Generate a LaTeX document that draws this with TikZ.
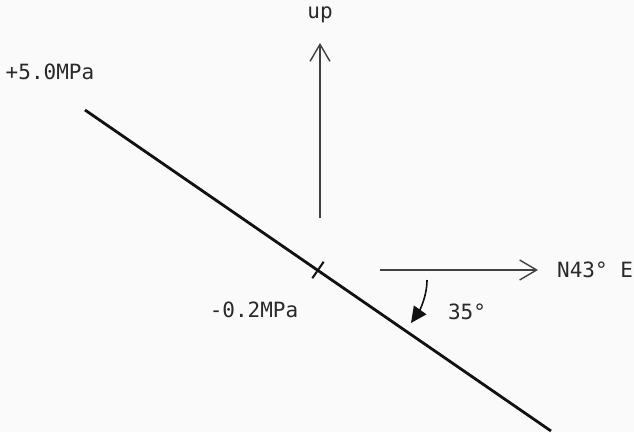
\documentclass[tikz,border=0pt]{standalone}
\usepackage{fontspec}
\setmonofont{DejaVu Sans Mono}
\usetikzlibrary{positioning, arrows.meta, calc}
\definecolor{ink}{HTML}{111111}
\definecolor{axis}{HTML}{404040}
\definecolor{paper}{HTML}{FAFAFA}

\begin{document}
\begin{tikzpicture}[
  x=1pt, y=-1pt,
  font=\ttfamily\fontsize{21}{24}\selectfont,
  lbl/.style={inner sep=1pt, text=ink!90},
  fault/.style={draw=ink, line width=2.8pt},
  tickmark/.style={draw=ink, line width=2pt},
  dirarr/.style={draw=axis, line width=1.4pt,
                 -{Straight Barb[length=17pt, width=20pt, line width=1.4pt]}},
  angarr/.style={draw=ink, line width=1.6pt,
                 -{Triangle[length=16pt, width=15pt]}}
]
  \fill[paper] (0,0) rectangle (634,432);
  \useasboundingbox (0,0) rectangle (634,432);

  % Fault trace
  \coordinate (top) at (85,110);
  \coordinate (bot) at (551,431);
  \coordinate (mid) at (318,270);
  \draw[fault] (top) -- (bot);
  \draw[tickmark] ($(mid)!10pt!90:(bot)$) -- ($(mid)!10pt!-90:(bot)$);

  \node[lbl] (hi) at (50,72) {+5.0MPa};
  \node[lbl] (lo) at (254,310) {-0.2MPa};

  % Directions
  \coordinate (upbase) at (320,218);
  \coordinate (uptip) at (320,43);
  \draw[dirarr] (upbase) -- (uptip);
  \node[lbl] (up) at (320,15) {up};

  \coordinate (dirbase) at (380,270);
  \coordinate (dirtip) at (538,270);
  \draw[dirarr] (dirbase) -- (dirtip);
  \node[lbl, right=18pt of dirtip] (dir) {N43° E};

  % Dip angle
  \coordinate (angstart) at (427,280);
  \coordinate (angend) at (411,323);
  \draw[angarr] (angstart) .. controls +(0,18) and +(7,-10) .. (angend);
  \node[lbl] (ang) at (467,312) {35°};
\end{tikzpicture}
\end{document}
